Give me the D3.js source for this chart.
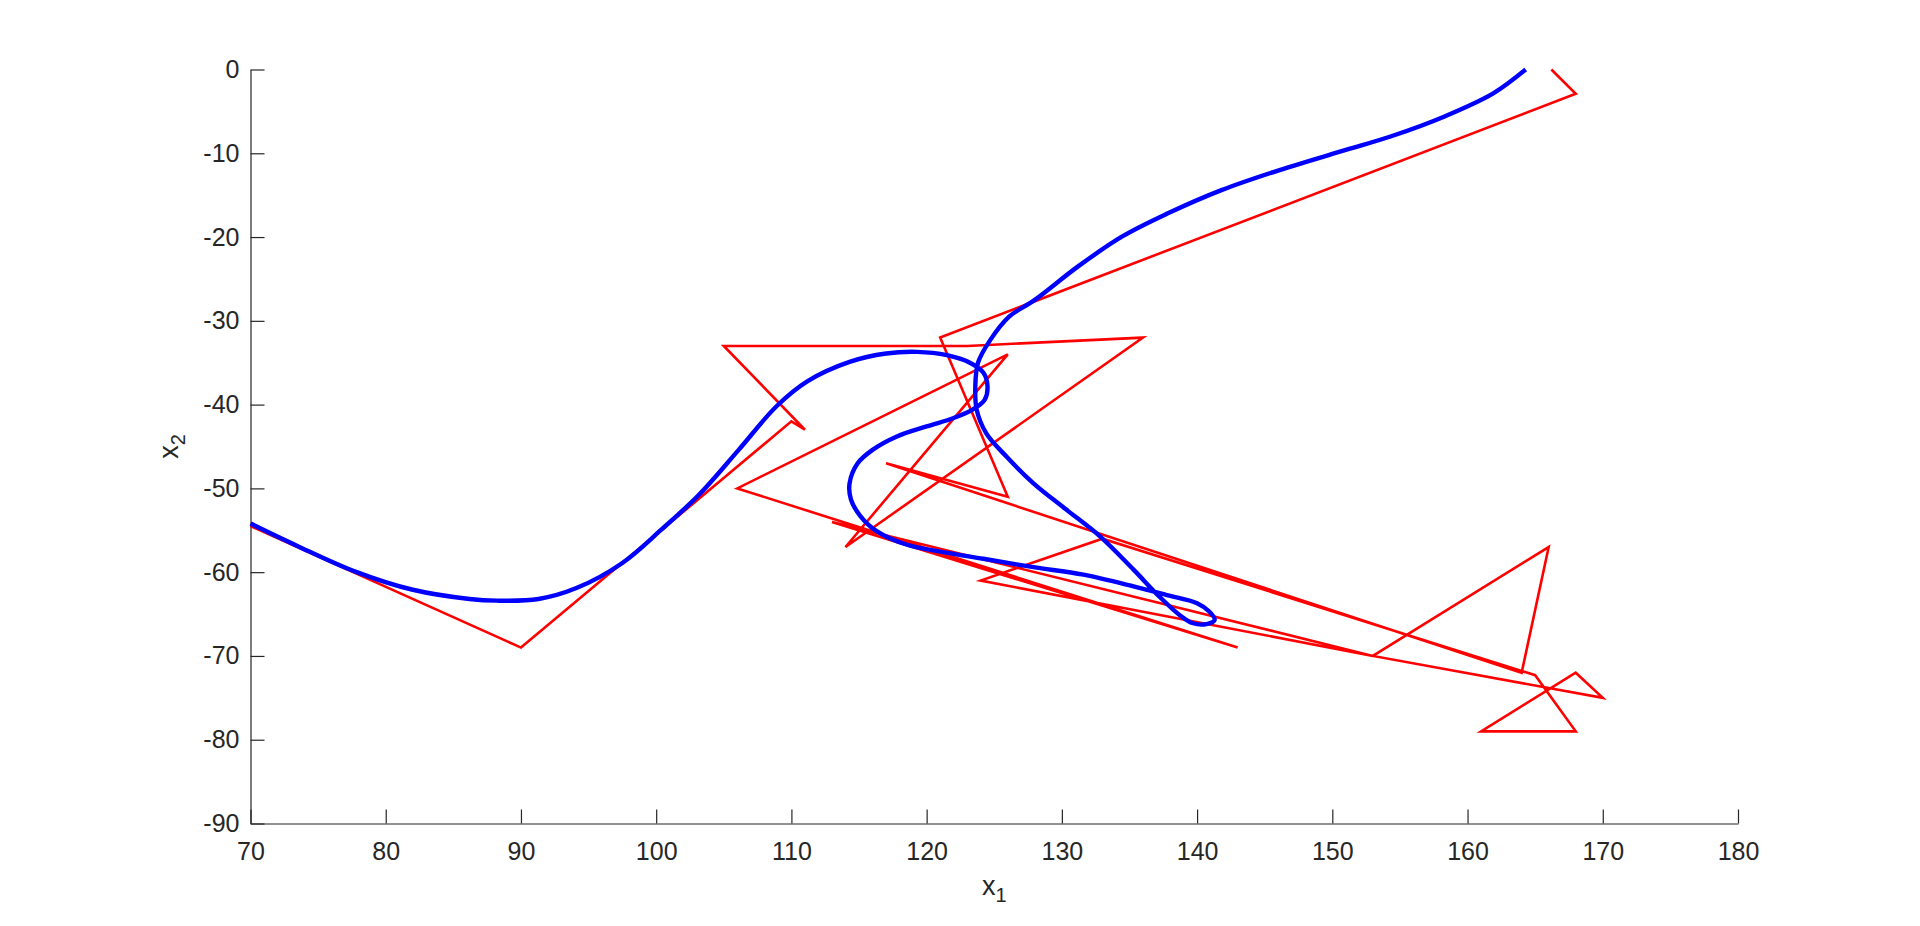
<!DOCTYPE html>
<html>
<head>
<meta charset="utf-8">
<script src="https://cdn.jsdelivr.net/npm/d3@7"></script>
<style>
  html, body { margin: 0; padding: 0; background: #ffffff; }
  svg { display: block; }
  .tick text { font-family: "Liberation Sans", Arial, Helvetica, sans-serif; }
</style>
</head>
<body>
<svg id="chart" width="1920" height="926"></svg>
<script>
// ---- data ----
const xTicks = [70, 80, 90, 100, 110, 120, 130, 140, 150, 160, 170, 180];
const yTicks = [0, -10, -20, -30, -40, -50, -60, -70, -80, -90];

// measured trajectory (red)
const redX = [70, 90, 110, 111, 105, 123, 136, 114, 126, 106, 143, 113, 153, 124, 133, 165, 168, 161, 168, 170, 153, 166, 164, 117, 126, 121, 168, 166.2];
const redY = [-54.5, -69, -42, -43, -33, -33, -32, -57, -34, -50, -69, -54, -70, -61, -56, -72.3, -79, -79, -72, -75, -70, -57, -72, -47, -51, -32, -2.9, 0];

// estimated trajectory (blue)
const blueX = [70, 73.5, 77.7, 82.0, 86.2, 88.2, 91.3, 94.1, 97.5, 100.4, 103.2, 106.1, 108.9, 111.2, 114.3, 117.0, 119.3, 121.5, 123.2, 124.2, 124.5, 124.3, 123.4, 122.0, 120.0, 117.8, 116.0, 114.9, 114.3, 114.4, 115.1, 116.3, 118.5, 121.2, 124.2, 127.9, 131.6, 135.3, 137.7, 140.0, 140.9, 141.3, 140.7, 139.7, 138.7, 137.2, 135.3, 132.8, 130.3, 127.9, 125.9, 124.4, 123.7, 123.6, 123.8, 124.7, 126.1, 128.0, 131.2, 134.5, 137.8, 141.8, 146.1, 151.0, 154.3, 158.3, 161.9, 164.3];
const blueY = [-54.2, -56.9, -59.9, -62.1, -63.2, -63.4, -63.2, -61.9, -58.9, -54.9, -50.7, -45.4, -40.2, -37.2, -34.9, -33.9, -33.7, -34.1, -35.0, -36.2, -37.8, -39.4, -40.6, -41.6, -42.6, -43.8, -45.4, -47.0, -49.4, -51.3, -53.3, -55.1, -56.7, -57.6, -58.4, -59.4, -60.3, -61.7, -62.7, -63.7, -64.7, -65.7, -66.2, -66.1, -65.1, -62.9, -59.7, -55.7, -52.5, -49.4, -46.2, -43.4, -40.6, -37.8, -35.0, -32.3, -29.5, -27.5, -23.5, -19.9, -17.2, -14.4, -12.0, -9.6, -8.0, -5.6, -2.85, 0];

// ---- layout ----
const svg = d3.select("#chart");
const plotL = 250.5, plotR = 1738, plotT = 69.5, plotB = 823.5;
const axisColor = "#262626";
const font = "'Liberation Sans', Arial, Helvetica, sans-serif";

const x = d3.scaleLinear().domain([70, 180]).range([plotL, plotR]);
const y = d3.scaleLinear().domain([-90, 0]).range([plotB, plotT]);

// ---- axes ----
const xAxis = d3.axisBottom(x).tickValues(xTicks).tickSizeInner(-14).tickSizeOuter(0).tickPadding(18.5).tickFormat(d3.format("d"));
const yAxis = d3.axisLeft(y).tickValues(yTicks).tickSizeInner(-14).tickSizeOuter(0).tickPadding(11).tickFormat(d => String(d));

const gx = svg.append("g").attr("transform", `translate(0,${plotB})`).call(xAxis);
const gy = svg.append("g").attr("transform", `translate(${plotL},0)`).call(yAxis);

[gx, gy].forEach(g => {
  g.select(".domain").attr("stroke", axisColor).attr("stroke-width", 1.2);
  g.selectAll(".tick line").attr("stroke", axisColor).attr("stroke-width", 1.2);
  g.selectAll(".tick text").attr("fill", axisColor).style("font-size", "25px").style("font-family", font);
});

// ---- lines ----
const redPts = redX.map((v, i) => [v, redY[i]]);
const bluePts = blueX.map((v, i) => [v, blueY[i]]);

const lineLin = d3.line().x(d => x(d[0])).y(d => y(d[1]));
const lineSmooth = d3.line().x(d => x(d[0])).y(d => y(d[1])).curve(d3.curveCatmullRom.alpha(0.5));

svg.append("path").datum(redPts)
  .attr("d", lineLin).attr("fill", "none")
  .attr("stroke", "#ff0000").attr("stroke-width", 2.6)
  .attr("stroke-linejoin", "miter").attr("stroke-miterlimit", 4);

svg.append("path").datum(bluePts)
  .attr("d", lineSmooth).attr("fill", "none")
  .attr("stroke", "#0000ff").attr("stroke-width", 4.4)
  .attr("stroke-linejoin", "round");

// ---- axis labels ----
const xl = svg.append("text")
  .attr("x", (plotL + plotR) / 2).attr("y", 895)
  .attr("text-anchor", "middle")
  .attr("fill", axisColor).style("font-family", font).style("font-size", "27px");
xl.append("tspan").text("x");
xl.append("tspan").attr("dy", "0.35em").style("font-size", "20px").text("1");

const yl = svg.append("text")
  .attr("transform", `translate(178,${(plotT + plotB) / 2}) rotate(-90)`)
  .attr("text-anchor", "middle")
  .attr("fill", axisColor).style("font-family", font).style("font-size", "27px");
yl.append("tspan").text("x");
yl.append("tspan").attr("dy", "0.35em").style("font-size", "20px").text("2");
</script>
</body>
</html>
